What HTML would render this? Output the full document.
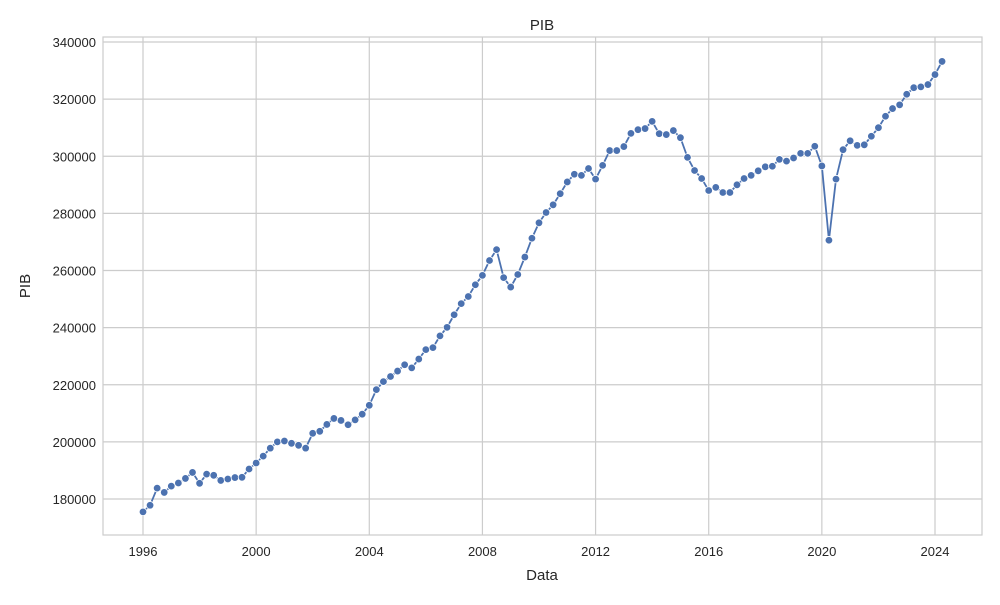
<!DOCTYPE html>
<html><head><meta charset="utf-8"><style>
body{margin:0;background:#fff;font-family:"Liberation Sans","DejaVu Sans",sans-serif}
text{font-family:"Liberation Sans","DejaVu Sans",sans-serif;fill:#262626}
</style></head><body>
<svg id="chart" width="1000" height="600" xmlns="http://www.w3.org/2000/svg">
<rect width="1000" height="600" fill="#fff"/>
<g id="grid"></g><g id="axes"></g><g id="series"></g>
<text x="542" y="30" font-size="15" text-anchor="middle">PIB</text>
<text x="542" y="580" font-size="15" text-anchor="middle">Data</text>
<text x="30" y="286" font-size="15" text-anchor="middle" transform="rotate(-90 30 286)">PIB</text>
</svg>
<script>
const startYear = 1996;
const values = [
175500,177800,183800,182300,
184500,185600,187200,189300,
185500,188700,188300,186500,
187000,187500,187600,190500,
192600,195000,197800,200000,
200300,199500,198800,197800,
203000,203700,206100,208200,
207500,206000,207700,209700,
212800,218300,221100,222900,
224800,227000,225900,229000,
232300,233000,237100,240100,
244500,248400,250900,255000,
258300,263500,267300,257500,
254200,258600,264700,271300,
276700,280300,283000,286900,
291000,293700,293300,295700,
292000,296800,302000,302000,
303400,308000,309300,309700,
312200,307900,307600,309000,
306500,299600,295000,292200,
288000,289100,287300,287300,
290000,292200,293300,294900,
296300,296500,298900,298300,
299400,301000,301000,303500,
296600,270600,292000,302300,
305400,303800,304000,307000,
310000,314000,316700,318000,
321700,324000,324300,325100,
328600,333200];
const xTicks = [1996,2000,2004,2008,2012,2016,2020,2024];
const yTicks = [180000,200000,220000,240000,260000,280000,300000,320000,340000];
const L=103,R=982,T=37,B=535;
const x = t => 143 + (t-1996)*(792/28);
const y = v => 499 - (v-180000)*(457/160000);
const NS="http://www.w3.org/2000/svg";
function mk(tag, attrs, parent){const e=document.createElementNS(NS,tag);for(const k in attrs)e.setAttribute(k,attrs[k]);parent.appendChild(e);return e;}
const grid=document.getElementById('grid'), axes=document.getElementById('axes'), series=document.getElementById('series');
xTicks.forEach(t=>{
  const l=mk('line',{x1:x(t),x2:x(t),y1:T,y2:B,stroke:'#cccccc','stroke-width':1.2},grid);
  
  
  const tx=mk('text',{x:x(t),y:B+21,'font-size':13,'text-anchor':'middle'},axes);
  tx.textContent=t;
  
  
});
yTicks.forEach(v=>{
  const l=mk('line',{x1:L,x2:R,y1:y(v),y2:y(v),stroke:'#cccccc','stroke-width':1.2},grid);
  
  
  const tx=mk('text',{x:L-7,y:y(v)+5,'font-size':13,'text-anchor':'end'},axes);
  tx.textContent=v;
  
  
});
const frame=mk('rect',{x:L,y:T,width:R-L,height:B-T,fill:'none',stroke:'#cccccc','stroke-width':1.2},axes);


const pts=values.map((v,i)=>[x(startYear+i/4),y(v)]);
const line=mk('polyline',{points:pts.map(p=>p.join(',')).join(' '),fill:'none',stroke:'#4c72b0','stroke-width':1.8},series);


pts.forEach(p=>{
  const c=mk('circle',{cx:p[0],cy:p[1],r:3.8,fill:'#4c72b0',stroke:'#fff','stroke-width':0.8},series);
  
  
});
</script>
</body></html>
